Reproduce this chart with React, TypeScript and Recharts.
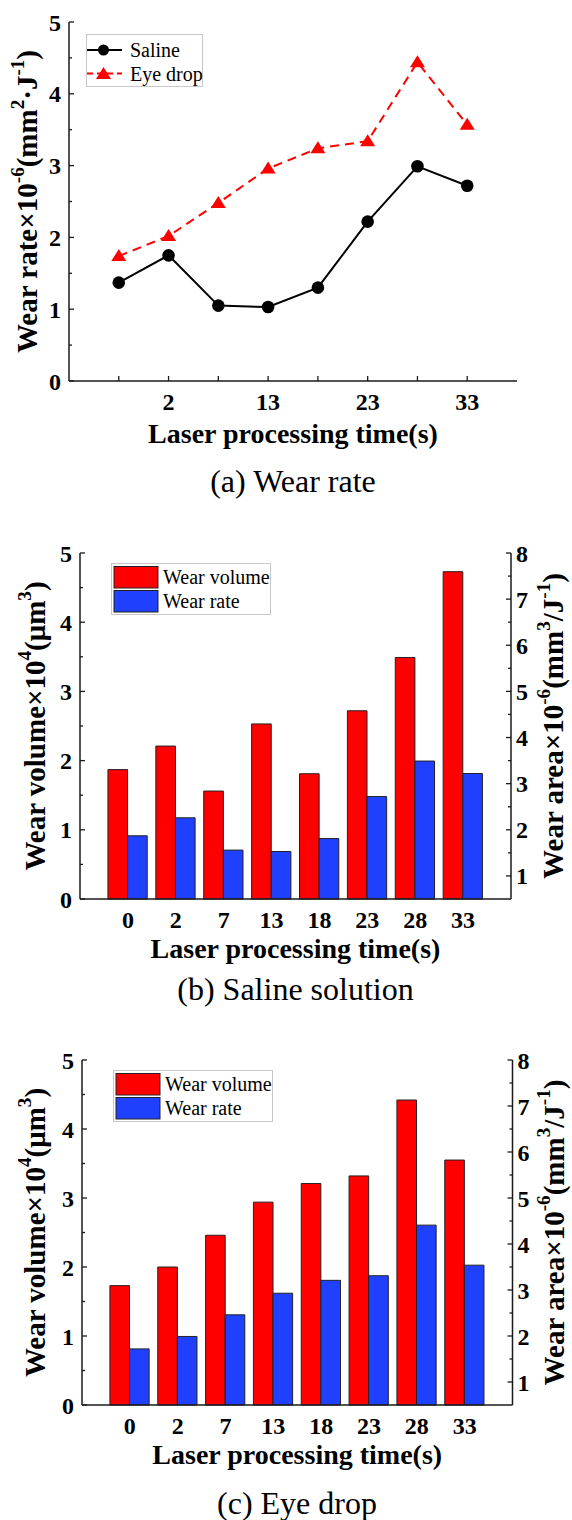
import React from "react";
import { LineChart, Line, BarChart, Bar, XAxis, YAxis, Legend } from "recharts";

// laser processing time (s)
const times = ["0", "2", "7", "13", "18", "23", "28", "33"];

// (a) wear rate, x10^-6 mm2/J
const salineRate = [1.37, 1.75, 1.05, 1.03, 1.3, 2.22, 2.99, 2.72];
const eyeDropRate = [1.74, 2.02, 2.48, 2.96, 3.24, 3.34, 4.44, 3.57];

// (b) saline solution
const salineVolume = [1.87, 2.21, 1.56, 2.53, 1.81, 2.72, 3.49, 4.73];
const salineWear = [1.87, 2.26, 1.56, 1.53, 1.81, 2.72, 3.49, 3.22];

// (c) eye drop
const eyeVolume = [1.73, 2.0, 2.46, 2.94, 3.21, 3.32, 4.42, 3.55];
const eyeWear = [1.72, 1.99, 2.46, 2.93, 3.21, 3.31, 4.41, 3.54];

const idxTicks = [0, 1, 2, 3, 4, 5, 6, 7];
const leftTicks = [0, 0.5, 1, 1.5, 2, 2.5, 3, 3.5, 4, 4.5, 5];
const rightTicks = [1, 1.5, 2, 2.5, 3, 3.5, 4, 4.5, 5, 5.5, 6, 6.5, 7, 7.5, 8];

const SERIF = "'Liberation Serif', 'Times New Roman', serif";
const AXIS = "#1a1a1a";
const axisLine = { stroke: AXIS, strokeWidth: 1.5 };
const RED = "#ff0000";
const BLUE = "#2040ff";

const lineData = times.map((t, i) => ({ idx: i, t, saline: salineRate[i], eye: eyeDropRate[i] }));
const salineData = times.map((t, i) => ({ t, vol: salineVolume[i], rate: salineWear[i] }));
const eyeData = times.map((t, i) => ({ t, vol: eyeVolume[i], rate: eyeWear[i] }));

type Part = [string, boolean?];

function Title({ x, y, parts, size, rotate }: { x: number; y: number; parts: Part[]; size: number; rotate?: boolean }) {
  const up = size * 0.36;
  let raised = false;
  return (
    <text
      x={x}
      y={y}
      transform={rotate ? `rotate(-90 ${x} ${y})` : undefined}
      textAnchor="middle"
      dominantBaseline={rotate ? "central" : undefined}
      fontFamily={SERIF}
      fontWeight="bold"
      fontSize={size}
      fill="#000"
    >
      {parts.map(([s, sup], i) => {
        let dy = 0;
        if (sup && !raised) {
          dy = -up;
          raised = true;
        } else if (!sup && raised) {
          dy = up;
          raised = false;
        }
        return (
          <tspan key={i} dy={dy} fontSize={sup ? size * 0.66 : size}>
            {s}
          </tspan>
        );
      })}
    </text>
  );
}

const tickText = { fontFamily: SERIF, fontWeight: "bold" as const, fontSize: 24, fill: "#000" };

function LeftTick(props: any) {
  const { x, y, payload } = props;
  const v = payload.value;
  const major = Number.isInteger(v);
  return (
    <g>
      <line x1={x} y1={y} x2={x + (major ? 5 : 3)} y2={y} stroke={AXIS} strokeWidth={1.3} />
      {major && (
        <text x={x - 8} y={y + 8.5} textAnchor="end" {...tickText}>
          {v}
        </text>
      )}
    </g>
  );
}

function RightTick(props: any) {
  const { x, y, payload } = props;
  const v = payload.value;
  const major = Number.isInteger(v);
  return (
    <g>
      <line x1={x} y1={y} x2={x - (major ? 5 : 3)} y2={y} stroke={AXIS} strokeWidth={1.3} />
      {major && (
        <text x={x + 5} y={y + 8.5} textAnchor="start" {...tickText}>
          {v}
        </text>
      )}
    </g>
  );
}

function LineXTick(props: any) {
  const { x, y, payload } = props;
  const i = payload.value;
  return (
    <g>
      <line x1={x} y1={y} x2={x} y2={y - 5} stroke={AXIS} strokeWidth={1.3} />
      {i % 2 === 1 && (
        <text x={x} y={y + 29} textAnchor="middle" {...tickText}>
          {times[i]}
        </text>
      )}
    </g>
  );
}

function BarXTick(props: any) {
  const { x, y, payload } = props;
  return (
    <text x={x} y={y + 29} textAnchor="middle" {...tickText}>
      {payload.value}
    </text>
  );
}

const xTitle = (dy: number) => (props: any) => {
  const vb = props.viewBox;
  return <Title x={vb.x + vb.width / 2} y={vb.y + dy} parts={[["Laser processing time(s)"]]} size={28} />;
};

const yTitle = (dx: number, parts: Part[], size: number) => (props: any) => {
  const vb = props.viewBox;
  return <Title x={vb.x + dx} y={vb.y + vb.height / 2} parts={parts} size={size} rotate />;
};

function CircleDot(props: any) {
  const { cx, cy } = props;
  return <circle cx={cx} cy={cy} r={6.3} fill="#000" />;
}

function TriDot(props: any) {
  const { cx, cy } = props;
  return <path d={`M${cx},${cy - 7} L${cx + 7.5},${cy + 5} L${cx - 7.5},${cy + 5} Z`} fill={RED} />;
}

function LineLegend() {
  return (
    <svg width={117} height={53} style={{ display: "block" }}>
      <rect x={0.5} y={0.5} width={116} height={52} fill="#fff" stroke="#c8c8c8" />
      <line x1={1} y1={16} x2={36} y2={16} stroke="#000" strokeWidth={2} />
      <circle cx={17.5} cy={16} r={5.5} fill="#000" />
      <text x={44} y={23} fontFamily={SERIF} fontSize={20} fill="#000">
        Saline
      </text>
      <line x1={1} y1={39.5} x2={36} y2={39.5} stroke={RED} strokeWidth={2} strokeDasharray="6 4" />
      <path d="M17.5,33 L25,45 L10,45 Z" fill={RED} />
      <text x={44} y={46.5} fontFamily={SERIF} fontSize={20} fill="#000">
        Eye drop
      </text>
    </svg>
  );
}

function BarLegend() {
  return (
    <svg width={160} height={52} style={{ display: "block" }}>
      <rect x={0.5} y={0.5} width={159} height={51} fill="#fff" stroke="#c8c8c8" />
      <rect x={3} y={3.5} width={44} height={21.5} fill={RED} stroke="#222" strokeWidth={1} />
      <rect x={3} y={27.5} width={44} height={21.5} fill={BLUE} stroke="#222" strokeWidth={1} />
      <text x={52} y={21} fontFamily={SERIF} fontSize={20} fill="#000">
        Wear volume
      </text>
      <text x={52} y={45} fontFamily={SERIF} fontSize={20} fill="#000">
        Wear rate
      </text>
    </svg>
  );
}

const volumeTitle: Part[] = [["Wear volume×10"], ["4", true], ["(μm"], ["3", true], [")"]];
const areaTitle: Part[] = [["Wear area×10"], ["-6", true], ["(mm"], ["3", true], ["/J"], ["-1", true], [")"]];
const rateTitle: Part[] = [["Wear rate×10"], ["-6", true], ["(mm"], ["2", true], ["·J"], ["-1", true], [")"]];

function Caption({ text, cx, top }: { text: string; cx: number; top: number }) {
  return (
    <div
      style={{
        position: "absolute",
        left: cx - 200,
        width: 400,
        top,
        textAlign: "center",
        fontFamily: SERIF,
        fontSize: 32,
        lineHeight: "32px",
        color: "#000",
      }}
    >
      {text}
    </div>
  );
}

function WearBars({
  data,
  top,
  height,
  plotTop,
  plotBottom,
  left,
  right,
  legendTop,
  legendLeft,
  titleDx,
}: {
  data: any[];
  top: number;
  height: number;
  plotTop: number;
  plotBottom: number;
  left: number;
  right: number;
  legendTop: number;
  legendLeft: number;
  titleDx: number;
}) {
  const band = (right - left) / 9;
  return (
    <div style={{ position: "absolute", left: 0, top }}>
      <BarChart
        width={572}
        height={height}
        data={data}
        margin={{ top: plotTop - top, right: 0, left: 0, bottom: 0 }}
        barGap={0}
        barSize={band * 0.41}
      >
        <XAxis
          dataKey="t"
          tick={BarXTick}
          tickLine={false}
          tickSize={0}
          tickMargin={0}
          interval={0}
          padding={{ left: band / 2, right: band / 2 }}
          height={top + height - plotBottom}
          axisLine={axisLine}
          label={{ content: xTitle(59) }}
        />
        <XAxis xAxisId="top" dataKey="t" orientation="top" tick={false} tickLine={false} height={0} axisLine={axisLine} />
        <YAxis
          yAxisId="l"
          domain={[0, 5]}
          ticks={leftTicks}
          interval={0}
          tick={LeftTick}
          tickLine={false}
          tickSize={0}
          tickMargin={0}
          width={left}
          axisLine={axisLine}
          label={{ content: yTitle(34.7, volumeTitle, 29) }}
        />
        <YAxis
          yAxisId="r"
          orientation="right"
          domain={[0.5, 8]}
          ticks={rightTicks}
          interval={0}
          tick={RightTick}
          tickLine={false}
          tickSize={0}
          tickMargin={0}
          width={572 - right}
          axisLine={axisLine}
          label={{ content: yTitle(titleDx, areaTitle, 29) }}
        />
        <Legend
          layout="horizontal"
          verticalAlign="middle"
          align="center"
          content={BarLegend}
          wrapperStyle={{ top: legendTop - top, left: legendLeft, width: 160, height: 52 }}
        />
        <Bar yAxisId="l" dataKey="vol" name="Wear volume" fill={RED} stroke="#222" strokeWidth={1} isAnimationActive={false} />
        <Bar yAxisId="r" dataKey="rate" name="Wear rate" fill={BLUE} stroke="#222" strokeWidth={1} isAnimationActive={false} />
      </BarChart>
    </div>
  );
}

export default function App() {
  return (
    <div style={{ position: "absolute", left: 0, top: 0, width: 572, height: 1520, background: "#fff" }}>
      <div style={{ position: "absolute", left: 0, top: 0 }}>
        <LineChart width={572} height={470} data={lineData} margin={{ top: 22, right: 55, left: 0, bottom: 0 }}>
          <XAxis
            dataKey="idx"
            type="number"
            domain={[-1, 8]}
            ticks={idxTicks}
            interval={0}
            tick={LineXTick}
            tickLine={false}
            tickSize={0}
            tickMargin={0}
            height={89}
            axisLine={axisLine}
            label={{ content: xTitle(62) }}
          />
          <XAxis xAxisId="top" type="number" domain={[-1, 8]} orientation="top" tick={false} tickLine={false} height={0} axisLine={axisLine} />
          <YAxis
            domain={[0, 5]}
            ticks={leftTicks}
            interval={0}
            tick={LeftTick}
            tickLine={false}
            tickSize={0}
            tickMargin={0}
            width={69}
            axisLine={axisLine}
            label={{ content: yTitle(27, rateTitle, 29) }}
          />
          <YAxis yAxisId="r" orientation="right" domain={[0, 5]} tick={false} tickLine={false} width={0} axisLine={axisLine} />
          <Legend
            layout="horizontal"
            verticalAlign="middle"
            align="center"
            content={LineLegend}
            wrapperStyle={{ top: 34, left: 86, width: 117, height: 53 }}
          />
          <Line dataKey="saline" name="Saline" stroke="#000" strokeWidth={2} dot={CircleDot} isAnimationActive={false} />
          <Line
            dataKey="eye"
            name="Eye drop"
            stroke={RED}
            strokeWidth={2}
            strokeDasharray="9 6"
            dot={TriDot}
            isAnimationActive={false}
          />
        </LineChart>
      </div>
      <Caption text="(a) Wear rate" cx={293} top={465} />

      <WearBars data={salineData} top={520} height={470} plotTop={553} plotBottom={899} left={80} right={511} legendTop={563} legendLeft={110.5} titleDx={42} />
      <Caption text="(b) Saline solution" cx={295.5} top={973} />

      <WearBars data={eyeData} top={1030} height={460} plotTop={1060} plotBottom={1405} left={82} right={512.5} legendTop={1070} legendLeft={112.5} titleDx={41} />
      <Caption text="(c) Eye drop" cx={297} top={1487} />
    </div>
  );
}
